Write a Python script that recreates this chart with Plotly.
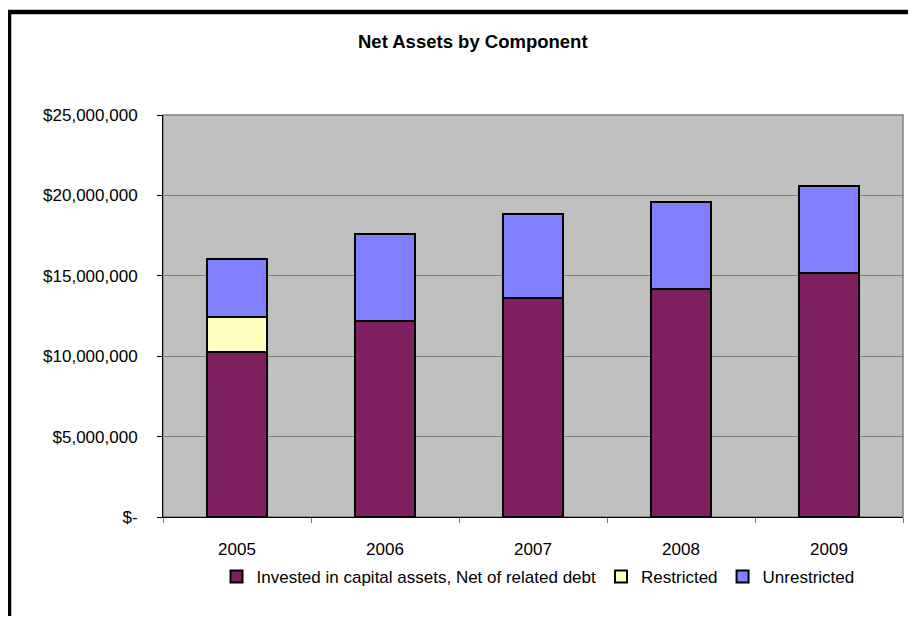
import plotly.graph_objects as go

years = ["2005", "2006", "2007", "2008", "2009"]
invested = [10280000, 12210000, 13600000, 14180000, 15170000]
restricted = [2180000, 0, 0, 0, 0]
unrestricted = [3570000, 5390000, 5260000, 5430000, 5430000]
series_names = ["Invested in capital assets, Net of related debt", "Restricted", "Unrestricted"]
colors = ["#7F1F5F", "#FFFFC0", "#8080FF"]
y_tickvals = [0, 5000000, 10000000, 15000000, 20000000, 25000000]
y_ticktext = ["$-", "$5,000,000", "$10,000,000", "$15,000,000", "$20,000,000", "$25,000,000"]

FONT = "Liberation Sans, Arial, sans-serif"
OFF = 8  # page body margin
W, H = 900, 608
# plot area in page coordinates: x 163..903, y 115..517
L, R, T, B = 163 - OFF, W - (903 - OFF), 115 - OFF, H - (517 - OFF)
pw, ph = W - L - R, H - T - B

def px(x):
    return (x - OFF - L) / pw

def py(y):
    return (H - B - (y - OFF)) / ph

fig = go.Figure()
for name, vals, c in zip(series_names, [invested, restricted, unrestricted], colors):
    fig.add_trace(go.Bar(
        x=years, y=vals, name=name,
        marker=dict(color=c, line=dict(color="black", width=2)),
    ))

fig.update_layout(
    width=W, height=H,
    barmode="stack", bargap=0.595,
    paper_bgcolor="white", plot_bgcolor="#C0C0C0",
    margin=dict(l=L, r=R, t=T, b=B),
    font=dict(family=FONT, size=17, color="black"),
    showlegend=True,
    legend=dict(orientation="h", x=px(538), xanchor="center", y=py(577), yanchor="middle",
                font=dict(family=FONT, size=17), itemwidth=30, traceorder="normal",
                bgcolor="rgba(0,0,0,0)"),
    annotations=[dict(text="<b>Net Assets by Component</b>", xref="paper", yref="paper",
                      x=px(473), y=py(41), xanchor="center", yanchor="middle",
                      showarrow=False, font=dict(family=FONT, size=18.5))],
    shapes=[
        dict(type="rect", xref="paper", yref="paper", x0=0, x1=1, y0=0, y1=1,
             line=dict(color="#808080", width=1.5), layer="below"),
        dict(type="rect", xref="paper", yref="paper", x0=px(9), x1=px(1000), y0=py(700), y1=py(12),
             line=dict(color="black", width=4.5)),
    ],
)
fig.update_yaxes(range=[0, 25000000], tickvals=y_tickvals, ticktext=y_ticktext,
                 showgrid=True, gridcolor="#808080", gridwidth=1,
                 showline=True, linecolor="black", linewidth=1,
                 ticks="outside", ticklen=5, tickcolor="black",
                 tickfont=dict(family=FONT, size=17), zeroline=False, ticklabelstandoff=16)
fig.update_xaxes(type="category", showline=True, linecolor="black", linewidth=1,
                 ticks="outside", ticklen=5, tickcolor="#808080", tickson="boundaries",
                 tickfont=dict(family=FONT, size=17), ticklabelstandoff=17)

fig.write_html("out.html")
